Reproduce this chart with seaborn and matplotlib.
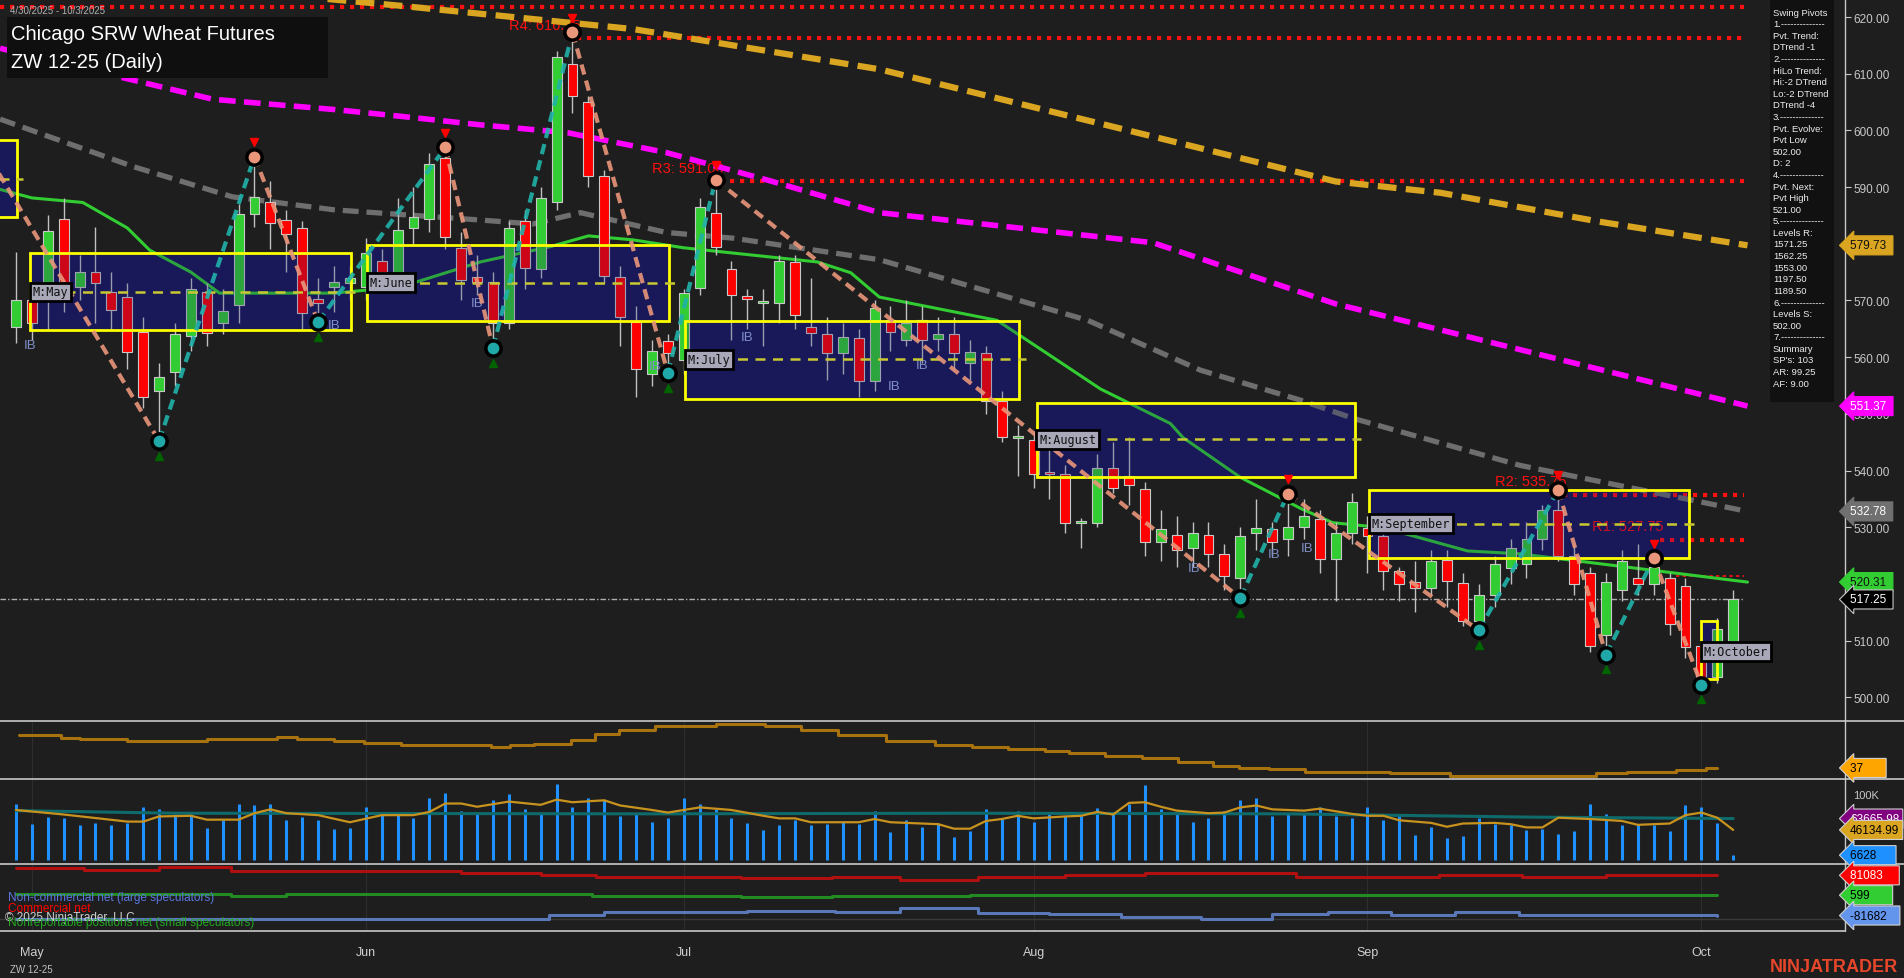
import numpy as np
import matplotlib
matplotlib.use('Agg')
import matplotlib.pyplot as plt
import matplotlib.transforms as mtransforms
from matplotlib.patches import Rectangle
import seaborn as sns

# ---- price bars (index 0 = 4/30/2025) ----
opens = [565.3, 570, 570.1, 584.4, 572.4, 575, 571.5, 570.6, 564.4, 554, 557.3, 563.7, 571.5, 566, 569.2, 585.3,
         587.4, 584.2, 582.8, 570.3, 572.4, 573, 572.4, 577, 574.9, 582.8, 584.4, 595.2, 579.3, 574.2, 573.3, 566,
         584, 575.6, 587.4, 611.7, 605, 591.9, 574.2, 566.2, 557, 562.8, 559.5, 572.2, 585.5, 575.6, 570.8, 569.6,
         569.6, 576.8, 565.3, 564, 560.7, 563.4, 555.8, 566.5, 563, 566.5, 563.2, 564, 558.9, 560.7, 552.2, 545.8,
         545.3, 539.8, 539.3, 530.8, 530.8, 540.5, 539, 536.8, 527.3, 528.7, 526.4, 528.7, 525.3, 521, 529, 529.6,
         528, 530, 531.5, 524.4, 529, 529.9, 528.5, 522.3, 520.4, 519.3, 524.2, 520.2, 513.5, 518, 522.8, 523.5,
         528, 533, 525, 522, 511, 519, 521, 520, 521, 519.6, 509, 503.5, 510]
highs = [578.6, 573, 585, 588, 578, 583, 575, 573, 567, 559, 566, 574, 573, 572, 587, 595.4,
         591, 586, 584, 574, 576, 576, 581, 579, 588, 590, 596, 597, 582, 578, 575, 584,
         586, 590, 614, 617.3, 606, 593, 576, 569, 563, 564, 572, 588, 591.3, 577, 572, 572,
         578, 578, 574, 567, 566, 565, 570, 569, 570, 569, 567, 567, 563, 562, 554, 548,
         547, 547, 541, 531.7, 543, 545, 546, 538, 533, 532, 531, 531, 527, 530, 535, 531,
         535.9, 535, 533, 531, 536, 532, 530, 523, 524, 526, 526, 522, 520, 525, 528, 531,
         534, 536.6, 527, 523, 522, 526, 527, 524.5, 522, 521, 510, 514, 519]
lows = [562.5, 563, 565, 568, 570, 566, 565, 558, 551, 545.2, 555, 561, 562, 564, 566, 583,
        579, 575, 565, 566.2, 568, 570, 570, 572, 573, 580, 582, 579, 570, 571, 561.6, 565,
        572, 574, 586, 603, 590, 573, 562, 553, 555, 557.2, 557, 571, 578, 563, 565, 562,
        566, 565, 562, 556, 557, 553, 554, 561, 562, 559, 561, 558, 556, 550, 545, 539,
        537, 535, 529, 526.4, 530, 536, 534, 525, 524, 523, 523, 523, 519, 517.5, 526, 525,
        525, 528, 522, 517, 527, 522, 519, 517, 515, 518, 516, 512.5, 511.8, 516, 520, 521,
        526, 524, 518, 508, 507.5, 517, 518, 518, 511, 507, 502.2, 502.5, 509]
closes = [570.1, 566, 582.2, 570.6, 575, 573, 568.3, 560.9, 553, 556.5, 564, 572, 564.2, 568.1, 585.3, 588.3,
          583.7, 581.8, 567.8, 569.6, 573.3, 574, 578.4, 575, 582.5, 584.8, 594, 581.2, 573.6, 573.3, 566, 582.8,
          575.7, 588.1, 612.9, 606, 592, 574.3, 567, 558, 561, 560.7, 571.3, 586.5, 579.5, 571, 570.3, 569.7,
          577, 567.4, 564.2, 560.7, 563.5, 555.8, 568.7, 564.5, 566, 563, 564, 560.7, 560.9, 552.2, 546, 545.8,
          539.3, 539.3, 530.8, 531, 540.5, 537, 537.5, 527.3, 529.7, 526, 529, 525.3, 521.4, 528.5, 529.9, 527.3,
          530, 532, 524.4, 529, 534.5, 528.5, 522.3, 520, 519.3, 524, 520.5, 513.5, 518, 523.5, 526.4, 528,
          533, 525, 520, 509, 520.4, 524, 520, 523, 513, 508.8, 503.5, 512, 517.25]
volume_k = [87, 56, 66, 64, 54, 57, 54, 57, 82, 78, 70, 70, 49, 61, 87, 85, 86, 62, 66, 61, 48, 49,
            82, 73, 73, 64, 96, 103, 76, 73, 93, 101, 78, 71, 118, 81, 95, 92, 68, 73, 59, 65,
            96, 87, 78, 65, 57, 46, 53, 62, 53, 56, 59, 56, 76, 43, 62, 50, 57, 35, 45, 79, 65, 76,
            59, 71, 67, 68, 80, 71, 87, 115, 78, 71, 59, 65, 76, 93, 96, 68, 70, 73, 82, 68, 64,
            82, 62, 70, 39, 51, 34, 37, 64, 56, 54, 46, 48, 40, 45, 87, 70, 53, 56, 53, 45, 85, 82, 57, 7]

# ---- moving averages (index, value) ----
ma_green_x = [-1, 1, 4.2, 7, 8.4, 11, 12.8, 20, 24.2, 29.2, 33.6, 36, 38.8, 42, 45, 50.4, 52.5, 54.3, 61.7, 65.2,
              68.2, 72.6, 73.4, 77, 80.8, 82.8, 86, 91.3, 94.6, 108.9]
ma_green_y = [589.6, 588.1, 587.3, 582.8, 578.9, 575, 571.3, 571.3, 572.4, 576.8, 579.5, 581.4, 580.7, 579.3, 578.4,
              576.8, 574.9, 570.6, 566.5, 560, 554.4, 548.3, 545.8, 538.8, 533.3, 530.8, 529.9, 525.8, 525.3, 520.31]
ma_gray_x = [-1, 7.4, 13.6, 20, 29.2, 32.5, 35.5, 40.9, 45.1, 54.3, 67.4, 74.5, 80.8, 84.1, 94.6, 108.9]
ma_gray_y = [602, 593.6, 588.3, 586, 584.2, 583.5, 585.5, 582, 581, 577.2, 566.5, 557.7, 552.4, 549.2, 540.9, 532.78]
ma_mag_x = [-1, 12.4, 20, 24.2, 29.2, 34.7, 40.9, 47.2, 54.3, 71.5, 83, 108.9]
ma_mag_y = [614.5, 605.5, 603.7, 602.5, 601, 599.6, 596.1, 591.3, 585.5, 580.2, 569.4, 551.37]
ma_orange_x = [10, 19.6, 24.2, 38.8, 54.3, 83, 89.6, 99.6, 108.9]
ma_orange_y = [626, 623.2, 622, 617.9, 610.8, 591, 589, 583.9, 579.73]

# ---- swing zigzag ----
swing_x = [-1.2, 9, 15, 19, 27, 30, 35, 41, 44, 77, 80, 92, 97, 100, 103, 106]
swing_y = [593, 545.2, 595.4, 566.2, 597, 561.6, 617.3, 557.2, 591.3, 517.5, 535.9, 511.8, 536.6, 507.5, 524.5, 502.2]

# ---- monthly value-area boxes ----
box_names = ['', 'M:May', 'M:June', 'M:July', 'M:August', 'M:September', 'M:October']
box_start = [-1.2, 0.9, 22.1, 42.1, 64.2, 85.1, 106.0]
box_end = [0.06, 21.1, 41.1, 63.1, 84.2, 105.2, 107.0]
box_top = [598.4, 578.4, 579.8, 566.4, 552.0, 536.6, 513.5]
box_bot = [584.8, 564.8, 566.4, 552.7, 538.8, 524.6, 503.2]
box_mid = [591.5, 571.5, 573.1, 559.6, 545.5, 530.6, 508.0]

# ---- pivot resistance levels ----
lvl_names = ['', 'R4: 616.25', 'R3: 591.00', 'R2: 535.75', 'R1: 527.75']
lvl_price = [621.75, 616.25, 591.0, 535.75, 527.75]
lvl_start = [-1.0, 35.3, 44.3, 97.3, 103.4]

ib_x = [0.9, 20, 29, 40.2, 46, 55.2, 57, 74.1, 79.1, 81.2]
ib_y = [562.1, 565.7, 569.5, 558.5, 563.5, 555.0, 558.6, 522.8, 525.3, 526.4]

# ---- lower panels ----
adx_x = [0.2, 2.8, 4, 6.3, 7, 11.2, 12, 15, 16.4, 17.7, 20, 21.9, 24.2, 28.8, 29.9, 31.1, 32.6, 34.9, 36.4, 37.9,
         40.2, 42.9, 44, 46, 47.1, 48.2, 49.4, 51.7, 54.7, 57.8, 60.1, 62.4, 64.7, 66.2, 68.5, 70.8, 73.1, 75.3,
         76.9, 78.8, 81.1, 85.3, 86.4, 89.5, 90.2, 98.2, 99.4, 101.3, 103.6, 104.4, 105.5, 106.3, 107]
adx_y = [75.8, 73, 71, 71, 68.6, 68.6, 71, 71, 73.4, 71, 68.6, 66.2, 63.8, 63.8, 61.4, 63.8, 65, 70.6, 77, 81.8,
         86.6, 86.6, 89, 89, 86.6, 86.6, 81.8, 75.8, 68.6, 63.8, 61.4, 59, 57.8, 55, 51.8, 48.6, 44.6, 39.8,
         37, 35.8, 32.6, 32.6, 30.6, 30.6, 27.8, 27.8, 30.6, 32.6, 32.6, 35, 35, 37, 37]
oi_x = [0, 3, 7, 8, 9, 11, 12, 14, 15, 16, 17, 19, 21, 23, 25, 26, 27, 28, 29, 31, 33, 34, 35, 37, 38, 40, 41,
        42, 43, 45, 47, 48, 49, 50, 53, 54, 55, 56, 58, 59, 60, 61, 62, 63, 64, 66, 67, 68, 69, 70, 71, 72, 73,
        75, 76, 77, 78, 79, 81, 82, 84, 85, 86, 87, 89, 90, 91, 93, 94, 95, 96, 97, 99, 101, 102, 104, 105, 106,
        107, 108]
oi_y = [77, 70, 59, 59, 67, 68, 62, 62, 72, 78, 72, 69, 58, 69, 69, 74, 87, 87, 82, 90, 85, 93, 89, 92, 84, 77,
        73, 77, 81, 77, 68, 64, 64, 58, 58, 63, 58, 57, 55, 48, 48, 60, 63, 68, 64, 67, 68, 74, 70, 88, 89, 82,
        76, 72, 73, 81, 84, 78, 76, 79, 71, 68, 68, 61, 57, 51, 56, 57, 55, 50, 50, 65, 63, 60, 54, 56, 69, 73,
        65, 46.1]
avgvol_x = [0, 10, 40, 60, 80, 95, 108]
avgvol_y = [76, 72, 71, 72, 71, 66, 63.7]

cot_red_x = [0, 4.3, 9, 13.5, 28, 33, 36.5, 45.6, 51.3, 55.6, 60.5, 66, 71, 80.5, 89.5, 94.7, 100, 107]
cot_red_y = [110.7, 101, 113.4, 97.2, 91.8, 83.7, 74.3, 68.9, 72.9, 60.8, 72.9, 81, 90.5, 72.9, 81, 72.9, 81, 81.08]
cot_green_x = [0, 13.5, 17, 36.2, 45.6, 51.3, 60, 107]
cot_green_y = [6.8, -1.4, 4, -4, -8.1, -4, 0.6, 0.6]
cot_blue_x = [0, 33.5, 37, 46, 51.5, 55.6, 60.5, 65, 69.5, 74.5, 79, 82.5, 86.5, 90.5, 94.5, 107]
cot_blue_y = [-97.2, -81, -68.9, -62.1, -66.2, -51.3, -70.2, -77, -89.1, -94.5, -77, -68.9, -81, -68.9, -81, -81.7]

month_idx = [1, 22, 42, 64, 85, 106]
month_lbl = ['May', 'Jun', 'Jul', 'Aug', 'Sep', 'Oct']

info_lines = ['Swing Pivots', '1.--------------', 'Pvt. Trend:', 'DTrend -1', '2.--------------', 'HiLo Trend:',
              'Hi:-2 DTrend', 'Lo:-2 DTrend', 'DTrend -4', '3.--------------', 'Pvt. Evolve:', 'Pvt Low',
              '502.00', 'D: 2', '4.--------------', 'Pvt. Next:', 'Pvt High', '521.00', '5.--------------',
              'Levels R:', '1571.25', '1562.25', '1553.00', '1197.50', '1189.50', '6.--------------',
              'Levels S:', '502.00', '7.--------------', 'Summary', "SP's: 103", 'AR: 99.25', 'AF: 9.00']

BG = '#1e1e1e'
sns.set_theme(style='dark', rc={'axes.facecolor': BG, 'figure.facecolor': BG, 'axes.edgecolor': BG,
                                'text.color': '#d8d8d8', 'xtick.color': '#c8c8c8', 'ytick.color': '#c8c8c8'})
plt.rcParams['font.family'] = ['Liberation Sans', 'DejaVu Sans']

W, H = 1904, 979
XR = 1845
fig = plt.figure(figsize=(W / 100, H / 100), dpi=100)


def fax(left, top, right, bottom):
    return fig.add_axes([left / W, 1 - bottom / H, (right - left) / W, (bottom - top) / H])


ax = fax(0, 0, XR, 722)
ax_o = fax(0, 722, XR, 780)
ax_v = fax(0, 780, XR, 865)
ax_c = fax(0, 865, XR, 932)

XLIM = (-1.006, (XR - 16) / 15.9)
ax.set_xlim(*XLIM)
ax.set_ylim(495.8, 623.2)
for a in (ax_o, ax_v, ax_c):
    a.set_xlim(*XLIM)
    a.set_yticks([])
    a.set_xticks([])
    for s in a.spines.values():
        s.set_visible(False)
for s in ax.spines.values():
    s.set_visible(False)
ax.set_xticks([])
ax.yaxis.tick_right()
ax.set_yticks(np.arange(500, 621, 10))
ax.set_yticklabels([f'{v:.2f}' for v in np.arange(500, 621, 10)], fontsize=8.5)
ax.tick_params(axis='y', length=4, width=0.8, pad=2, colors='#c8c8c8')

idx = np.arange(len(closes))
o = np.array(opens); c = np.array(closes)
up = c >= o
LINE_END = 108.7

# value-area boxes (behind candles)
for i in range(len(box_names)):
    ax.add_patch(Rectangle((box_start[i], box_bot[i]), box_end[i] - box_start[i], box_top[i] - box_bot[i],
                           facecolor='#191955', edgecolor='none', zorder=1))

# red pivot level lines
for i in range(len(lvl_price)):
    ax.plot([lvl_start[i], LINE_END], [lvl_price[i]] * 2, color='#ff1010', lw=3, ls=(0, (1, 1.4)), zorder=2)
    if lvl_names[i]:
        ax.text(lvl_start[i] + 0.2, lvl_price[i] + 1.2, lvl_names[i], color='#ff1010', fontsize=10.5,
                ha='right', va='bottom', zorder=2)
ax.plot([104.4, LINE_END], [521.3] * 2, color='#ff1010', lw=1.2, ls=(0, (2, 2)), zorder=2)

# last price line
ax.plot([-1, LINE_END], [517.25] * 2, color='#b0b0b0', lw=1, ls=(0, (4, 1.5, 1, 1.5)), zorder=2)

# moving averages
sns.lineplot(x=ma_orange_x, y=ma_orange_y, ax=ax, color='#daa520', lw=4.5, linestyle=(0, (3, 1.5)), zorder=2)
sns.lineplot(x=ma_mag_x, y=ma_mag_y, ax=ax, color='#ff00ff', lw=4, linestyle=(0, (3, 1.5)), zorder=2)
sns.lineplot(x=ma_gray_x, y=ma_gray_y, ax=ax, color='#6e6e6e', lw=3.8, linestyle=(0, (3, 1.5)), zorder=2)
sns.lineplot(x=ma_green_x, y=ma_green_y, ax=ax, color='#32cd32', lw=2.2, zorder=2)

# candles
ax.vlines(idx, lows, highs, color='#c0c0c0', lw=1, zorder=3)
body = np.where(np.abs(c - o) < 0.3, 0.3, c - o)
ax.bar(idx, body, bottom=o, width=0.62, color=np.where(up, '#32cd32', '#ff0000'),
       edgecolor='#c8c8c8', linewidth=0.8, zorder=3)

# dim overlay + outline of boxes
for i in range(len(box_names)):
    ax.add_patch(Rectangle((box_start[i], box_bot[i]), box_end[i] - box_start[i], box_top[i] - box_bot[i],
                           facecolor='#191970', alpha=0.22, edgecolor='none', zorder=4))
    ax.add_patch(Rectangle((box_start[i], box_bot[i]), box_end[i] - box_start[i], box_top[i] - box_bot[i],
                           facecolor='none', edgecolor='#ffff00', lw=2, zorder=6))
    ax.plot([box_start[i], box_end[i] + 0.4], [box_mid[i]] * 2, color='#c8c832', lw=1.8, ls=(0, (4, 3)), zorder=6)
    if box_names[i]:
        ax.text(box_start[i] + 0.15, box_mid[i], box_names[i], fontsize=8.5, family='DejaVu Sans Mono',
                color='#101010', va='center', ha='left', zorder=8,
                bbox=dict(boxstyle='square,pad=0.25', facecolor='#a8a8b8', edgecolor='black', lw=2))

for x_, y_ in zip(ib_x, ib_y):
    ax.text(x_, y_, 'IB', color='#8090c8', fontsize=9.5, ha='center', va='center', zorder=5)

# zigzag
for i in range(len(swing_x) - 1):
    col = '#20b2aa' if swing_y[i + 1] > swing_y[i] else '#e9967a'
    ax.plot(swing_x[i:i + 2], swing_y[i:i + 2], color=col, lw=3, ls=(0, (2.5, 1.5)), alpha=0.9, zorder=7)
for i in range(1, len(swing_x)):
    high = swing_y[i] > swing_y[i - 1]
    ax.plot(swing_x[i], swing_y[i], 'o', ms=11, mfc='#e9967a' if high else '#20a8a8',
            mec='black', mew=2.5, zorder=8)
    if high:
        ax.plot(swing_x[i], swing_y[i] + 2.6, 'v', ms=6, color='#ff0000', zorder=8)
    else:
        ax.plot(swing_x[i], swing_y[i] - 2.6, '^', ms=6, color='#006400', zorder=8)


def tag(a, v, txt, fc, tc, ec='#d0d0d0'):
    tr = mtransforms.blended_transform_factory(fig.transFigure, a.transData)
    fig.text(1850 / W, v, txt, transform=tr, fontsize=8.5, color=tc, va='center', ha='left', zorder=10,
             bbox=dict(boxstyle='larrow,pad=0.3', facecolor=fc, edgecolor=ec, lw=0.8))


# price tags
tag(ax, 579.73, '579.73 ', '#daa520', '#101010', '#daa520')
tag(ax, 551.37, '551.37 ', '#ff00ff', '#ffffff', '#ff00ff')
tag(ax, 532.78, '532.78 ', '#707070', '#ffffff', '#707070')
tag(ax, 520.31, '520.31 ', '#32cd32', '#101010', '#32cd32')
tag(ax, 517.25, '517.25 ', '#000000', '#ffffff', '#c8c8c8')

# title block
fig.text(10 / W, 1 - 11 / H, '4/30/2025 - 10/3/2025', fontsize=7, color='#b0b0b0', va='center')
fig.patches.append(Rectangle((7 / W, 1 - 79 / H), 321 / W, 61 / H, transform=fig.transFigure,
                             facecolor='#0f0f0f', edgecolor='none'))
fig.text(11 / W, 1 - 35 / H, 'Chicago SRW Wheat Futures', fontsize=14.5, color='white', va='center')
fig.text(11 / W, 1 - 62 / H, 'ZW 12-25 (Daily)', fontsize=14.5, color='white', va='center')

# info panel
fig.patches.append(Rectangle((1770 / W, 1 - 403 / H), 64 / W, 403 / H, transform=fig.transFigure,
                             facecolor='#111111', edgecolor='none', zorder=9))
for k, line in enumerate(info_lines):
    fig.text(1773 / W, 1 - (13 + 11.6 * k) / H, line, fontsize=6.8, color='#ececec', va='center', zorder=10)

# ADX-like panel
ax_o.set_ylim(23.8, 93)
sns.lineplot(x=adx_x, y=adx_y, ax=ax_o, color='#a8720e', lw=2.2, drawstyle='steps-post')

# volume panel
ax_v.set_ylim(-6.7, 125)
ax_v.vlines(idx, 0, volume_k, color='#1e90ff', lw=2.2)
sns.lineplot(x=avgvol_x, y=avgvol_y, ax=ax_v, color='#0f6b6b', lw=2.2)
sns.lineplot(x=oi_x, y=oi_y, ax=ax_v, color='#c8921e', lw=1.6)

# COT panel
ax_c.set_ylim(-144.5, 127)
ax_c.axhline(-97.2, color='#3a3a3a', lw=1)
ax_c.step(cot_red_x, cot_red_y, where='post', color='#b01010', lw=2.2)
ax_c.step(cot_green_x, cot_green_y, where='post', color='#228b22', lw=2.2)
ax_c.step(cot_blue_x, cot_blue_y, where='post', color='#5a78b8', lw=2.2)
ax_c.text(-0.5, -6.7, 'Non-commercial net (large speculators)', color='#5a78e0', fontsize=8.5, va='center')
ax_c.text(-0.5, -51, 'Commercial net', color='#ff0000', fontsize=8.5, va='center')
ax_c.text(-0.7, -87, '\u00a9 2025 NinjaTrader, LLC', color='#d0d0d0', fontsize=8.5, va='center')
ax_c.text(-0.5, -110, 'Nonreportable positions net (small speculators)', color='#22aa22', fontsize=8.5,
          va='center')

for a in (ax_o, ax_v, ax_c):
    for m in month_idx:
        a.axvline(m, color='#2e2e2e', lw=0.8, zorder=0)

ax_c.set_xticks(month_idx)
ax_c.set_xticklabels(month_lbl, fontsize=9, color='#d0d0d0')
ax_c.tick_params(axis='x', length=5, width=0.8, pad=6, colors='#c8c8c8', labelcolor='#d0d0d0')

# lower panel tags
tag(ax_o, 37, '37      ', '#ffa500', '#000000')
tr_v = mtransforms.blended_transform_factory(fig.transFigure, ax_v.transData)
fig.text(1853 / W, 100, '100K', transform=tr_v, fontsize=8, color='#c8c8c8', va='center')
tag(ax_v, 63.7, '63665.98', '#800080', '#ffffff')
tag(ax_v, 46.1, '46134.99', '#daa520', '#000000')
tag(ax_v, 7, '6628     ', '#1e90ff', '#000000')
tag(ax_c, 81.08, '81083    ', '#ff0000', '#ffffff')
tag(ax_c, 0.6, '599      ', '#32cd32', '#000000')
tag(ax_c, -81.7, '-81682   ', '#6495ed', '#000000')

# separators and right axis line
for yy, xr in [(722, 1904), (780, 1904), (865, 1904), (932, XR)]:
    fig.add_artist(plt.Line2D([0, xr / W], [1 - yy / H] * 2, color='#c8c8c8', lw=1.2))
fig.add_artist(plt.Line2D([XR / W] * 2, [1 - 932 / H, 1.0], color='#c8c8c8', lw=1))

fig.text(10 / W, 1 - 970 / H, 'ZW 12-25', fontsize=7, color='#c0c0c0', va='center')
fig.text(1898 / W, 1 - 968 / H, 'NINJATRADER', fontsize=13, color='#e8462a', fontweight='bold',
         ha='right', va='center')

fig.savefig('out.png', dpi=100, facecolor=BG)
